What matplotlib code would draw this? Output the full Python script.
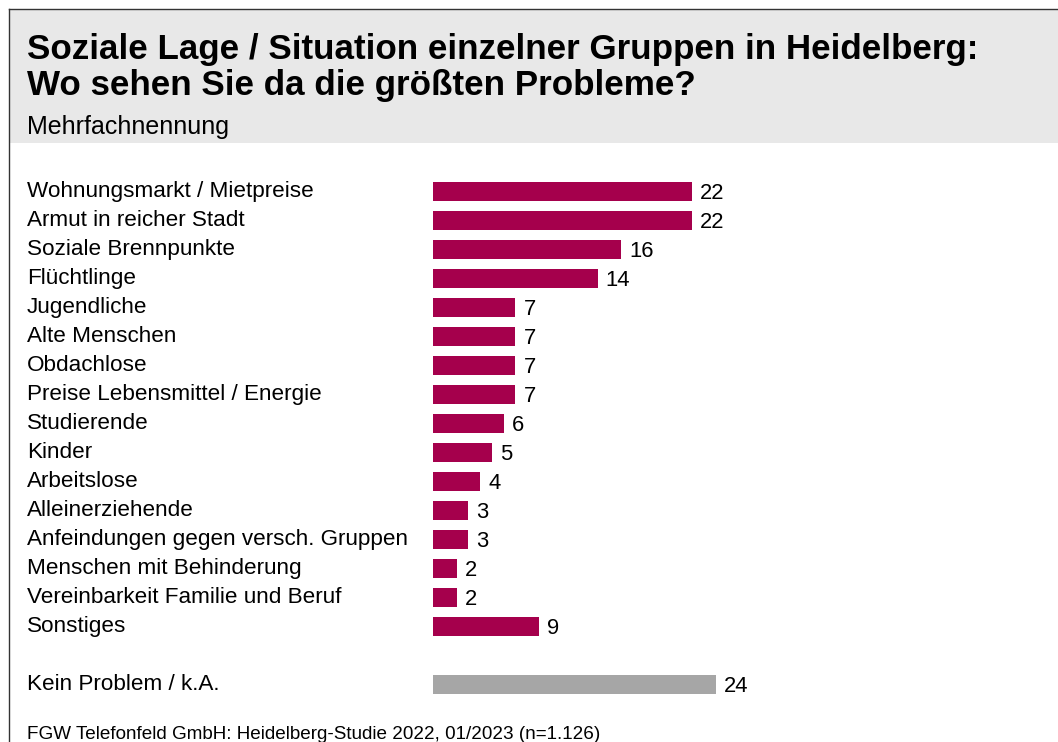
import matplotlib
matplotlib.use("Agg")
import matplotlib.pyplot as plt
import matplotlib.transforms as mtransforms
from matplotlib.patches import Rectangle
from matplotlib.lines import Line2D

plt.rcParams['font.family'] = ['Liberation Sans', 'DejaVu Sans']

title = "Soziale Lage / Situation einzelner Gruppen in Heidelberg:\nWo sehen Sie da die größten Probleme?"
subtitle = "Mehrfachnennung"
footer = "FGW Telefonfeld GmbH: Heidelberg-Studie 2022, 01/2023 (n=1.126)"

categories = [
    "Wohnungsmarkt / Mietpreise",
    "Armut in reicher Stadt",
    "Soziale Brennpunkte",
    "Flüchtlinge",
    "Jugendliche",
    "Alte Menschen",
    "Obdachlose",
    "Preise Lebensmittel / Energie",
    "Studierende",
    "Kinder",
    "Arbeitslose",
    "Alleinerziehende",
    "Anfeindungen gegen versch. Gruppen",
    "Menschen mit Behinderung",
    "Vereinbarkeit Familie und Beruf",
    "Sonstiges",
]
values = [22, 22, 16, 14, 7, 7, 7, 7, 6, 5, 4, 3, 3, 2, 2, 9]

extra_category = "Kein Problem / k.A."
extra_value = 24

W, H = 1058, 742
fig = plt.figure(figsize=(W / 100, H / 100), dpi=100)

def fx(px):
    return px / W

def fy(py):
    return 1 - py / H

# header band and frame
fig.patches.append(Rectangle((fx(9), fy(143)), fx(W - 9), (143 - 10) / H,
                             transform=fig.transFigure, facecolor="#E8E8E8",
                             edgecolor="none", zorder=0))
fig.lines.append(Line2D([fx(8.5), fx(8.5)], [fy(742), fy(9)], transform=fig.transFigure,
                        color="#333333", lw=1.0))
fig.lines.append(Line2D([fx(8.5), 1], [fy(9), fy(9)], transform=fig.transFigure,
                        color="#333333", lw=1.0))

fig.text(fx(27), fy(59), title.split("\n")[0], fontsize=25.2, fontweight="bold",
         va="baseline", ha="left", color="black")
fig.text(fx(27), fy(94.5), title.split("\n")[1], fontsize=25.2, fontweight="bold",
         va="baseline", ha="left", color="black")
fig.text(fx(27), fy(134), subtitle, fontsize=18, va="baseline", ha="left", color="black")
fig.text(fx(27), fy(739), footer, fontsize=13.6, va="baseline", ha="left", color="black")

# axes: 1 unit = 259/22 px starting at x=433 ; rows spaced 29 px, row 0 center 191
px_per_unit = 259 / 22
xmax = 50
row_h = 29
top = 191 - 0.5 * row_h
nrows = 18
bottom = top + nrows * row_h
ax = fig.add_axes([fx(433), fy(bottom), xmax * px_per_unit / W, nrows * row_h / H])
ax.set_xlim(0, xmax)
ax.set_ylim(nrows - 0.5, -0.5)
ax.axis("off")

ypos = list(range(len(categories)))
extra_y = len(categories) + 1
bar_h = 19 / 29

ax.barh(ypos, values, height=bar_h, color="#A5004C", edgecolor="none")
ax.barh([extra_y], [extra_value], height=bar_h, color="#A6A6A6", edgecolor="none")

blend = mtransforms.blended_transform_factory(fig.transFigure, ax.transData)
lab_off = mtransforms.ScaledTranslation(0, -6 / 100, fig.dpi_scale_trans)
val_off = mtransforms.ScaledTranslation(8 / 100, -8 / 100, fig.dpi_scale_trans)

all_y = ypos + [extra_y]
all_cat = categories + [extra_category]
all_val = values + [extra_value]
for y, c, v in zip(all_y, all_cat, all_val):
    fig.text(fx(27), y, c, transform=blend + lab_off, fontsize=16.2,
             va="baseline", ha="left", color="black")
    ax.text(v, y, str(v), transform=ax.transData + val_off, fontsize=15.8,
            va="baseline", ha="left", color="black")

fig.savefig("out.png", dpi=100)
